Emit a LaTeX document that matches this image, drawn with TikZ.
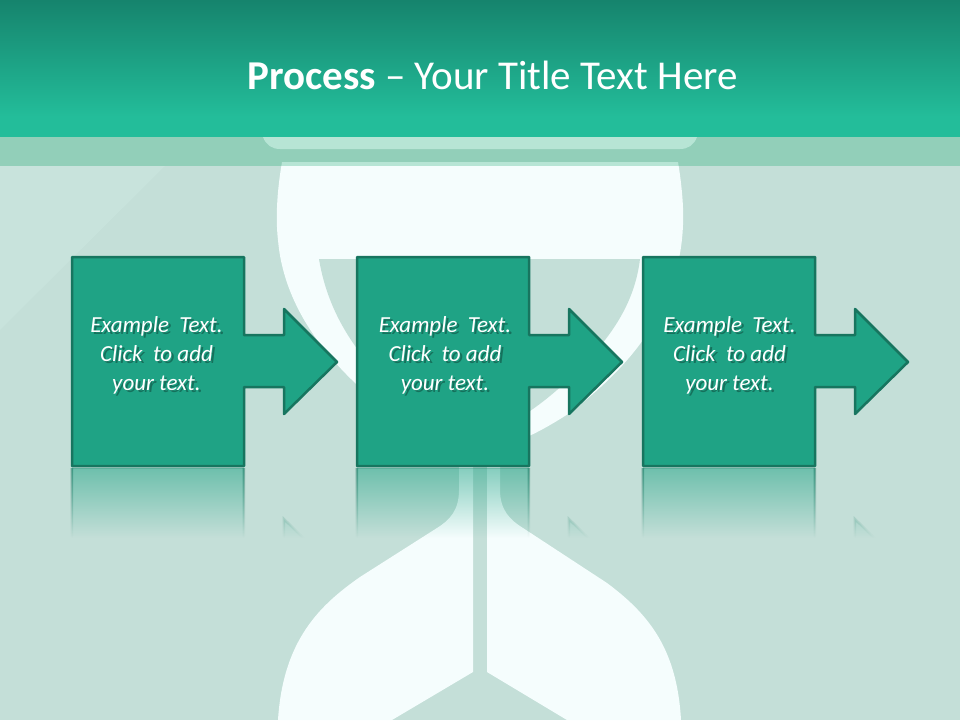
\documentclass[tikz,border=0pt]{standalone}
\usepackage{fontspec}
\setmainfont{Carlito}
\usetikzlibrary{fadings}
\definecolor{hourwhite}{HTML}{F5FDFD}
\definecolor{backcol}{HTML}{C4DFD8}
\definecolor{backlight}{HTML}{C8E3DC}
\definecolor{headtop}{HTML}{16846D}
\definecolor{headbot}{HTML}{23BD9A}
\definecolor{bandcol}{RGB}{0,160,96}
\definecolor{stepfill}{HTML}{1FA385}
\definecolor{stepline}{HTML}{17755F}
\pgfdeclareverticalshading{mirrorshade}{100bp}{color(0bp)=(pgftransparent!100); color(58bp)=(pgftransparent!100); color(75bp)=(pgftransparent!46); color(100bp)=(pgftransparent!46)}
\pgfdeclarefading{mirrorfade}{\pgfuseshading{mirrorshade}}
\tikzset{
  stepshape/.style={draw=stepline,fill=stepfill,line width=2.5pt,line join=round},
  steptext/.style={align=center,font=\fontsize{23}{29}\selectfont\itshape,inner sep=0pt,text=#1},
  mirrorshape/.style={draw=stepline,fill=stepfill,line width=2.5pt,path fading=mirrorfade}
}
\newcommand*{\steppath}[1]{(#1,257) -- ++(172,0) -- ++(0,78) -- ++(40,0) -- ++(0,-26) -- ++(53,53) -- ++(-53,52) -- ++(0,-27) -- ++(-40,0) -- ++(0,79) -- ++(-172,0) -- cycle}
\newcommand*{\stepwords}{Example\ \ Text.\\Click\ \ to add\\your text.}

\begin{document}
\begin{tikzpicture}[x=1pt,y=-1pt]
\useasboundingbox (0,0) rectangle (960,720);
\fill[backcol] (0,0) rectangle (960,720);
\fill[backlight] (0,166) -- (165,166) -- (0,330) -- cycle;

% hourglass
\fill[hourwhite] (282,162) .. controls (278,185) and (275,215) .. (278,240)
  .. controls (283,300) and (320,360) .. (392,414)
  .. controls (420,432) and (445,445) .. (480,452)
  .. controls (515,445) and (540,432) .. (568,414)
  .. controls (640,360) and (680,300) .. (683,225)
  .. controls (684,205) and (681,180) .. (678,162) -- cycle;
\fill[backcol] (319,259) -- (640,259) .. controls (635,300) and (615,330) .. (590,358)
  .. controls (560,390) and (520,425) .. (480,435)
  .. controls (430,425) and (395,395) .. (370,365)
  .. controls (340,330) and (325,295) .. (319,259) -- cycle;
\fill[hourwhite] (459,460) -- (459,490) .. controls (459,510) and (450,520) .. (437,528)
  -- (360,577) .. controls (320,605) and (283,640) .. (278,720)
  -- (392,720) -- (473,672) -- (473,460) -- cycle;
\fill[hourwhite] (500,460) -- (500,490) .. controls (500,510) and (510,520) .. (523,528)
  -- (607,583) .. controls (650,615) and (677,650) .. (681,720)
  -- (567,720) -- (487,672) -- (487,460) -- cycle;

% top band
\fill[hourwhite] (263,130) -- (263,137) .. controls (266,145) and (272,149) .. (280,149)
  -- (680,149) .. controls (688,149) and (694,145) .. (697,137) -- (697,130) -- cycle;
\fill[bandcol,opacity=.25] (0,137) rectangle (960,166);
\shade[top color=headtop,bottom color=headbot] (0,0) rectangle (960,117);
\fill[headbot] (0,116) rectangle (960,137);
\node[font=\fontsize{41}{48}\selectfont,text=white,inner sep=0pt] (title) at (492.5,75) {\textbf{Process} – Your Title Text Here};

% steps
\foreach \x/\tx/\n in {72/156.5/one,357/445/two,643/729.5/three}{
  \begin{scope}
    \clip (\x-2,468) rectangle (\x+270,540);
    \begin{scope}[shift={(0,933)},yscale=-1]
      \path[mirrorshape] \steppath{\x};
    \end{scope}
  \end{scope}
  \draw[stepshape] \steppath{\x};
  \node[steptext=black,opacity=.3] (shadow\n) at (\tx+2.5,357.5) {\stepwords};
  \node[steptext=white] (text\n) at (\tx,355) {\stepwords};
}
\end{tikzpicture}
\end{document}
